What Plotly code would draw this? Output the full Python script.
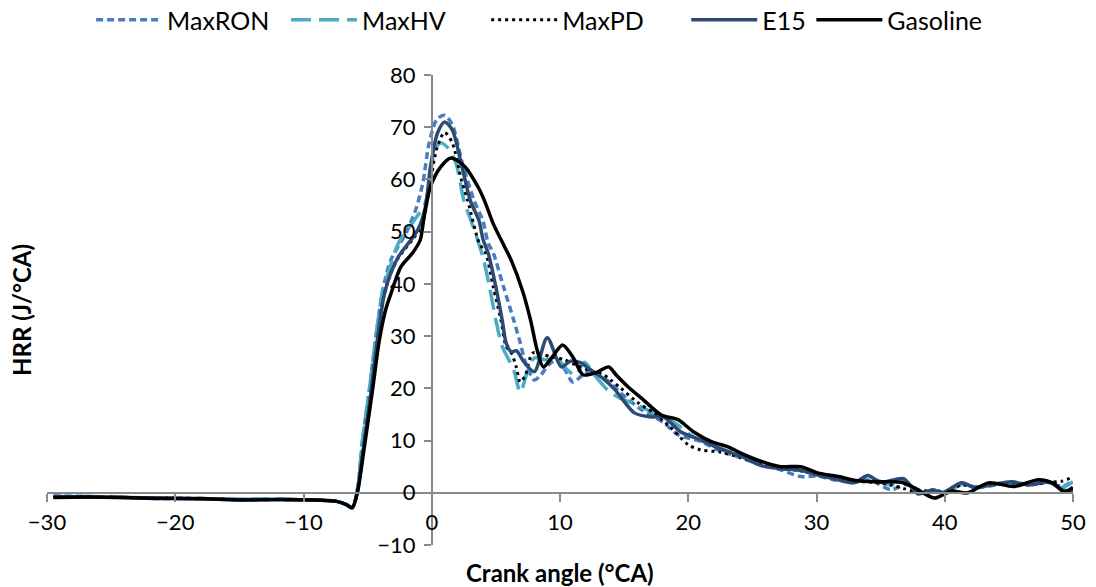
import plotly.graph_objects as go

# ---------------- data ----------------
pre_x = [-29.5, -27, -24, -21, -18, -15, -12, -9, -7.5, -6.7, -6.2]

ron_x = pre_x + [-5.8, -5.4, -4.8, -4.3, -3.8, -3.2, -2.0, -1.25, -0.7, -0.2, 0.4, 1.0, 1.6, 2.4, 3.3, 4.0, 4.4,
                 4.8, 5.6, 6.4, 6.9, 7.3, 8.0, 8.5, 9.1, 9.8, 10.4, 11.0, 11.8, 12.5, 13.2, 13.7, 15.0, 16.3,
                 17.0, 18.1, 19.2, 21.0, 22.3, 24.0, 25.7, 27.2, 28.8, 30.1, 31.3, 33.0, 34.2, 35.8, 37.0,
                 38.0, 39.2, 40.0, 41.3, 42.5, 44.0, 45.3, 46.8, 48.0, 49.2, 50.0]
ron_y = [-0.6, -0.7, -0.9, -1.1, -1.1, -1.3, -1.3, -1.4, -1.6, -2.2, -2.9,
         0.5, 10, 21, 31, 39, 44.5, 49.8, 54.2, 59.3, 67, 71.5, 72.3, 70.5, 63, 56, 52, 47.8,
         45.9, 39.4, 33, 28.7, 25, 21.6, 22.5, 24.5, 25.5, 23.5, 21.2, 22.6, 23.5, 22.2, 21.5, 18.5, 16,
         15, 13.4, 11.1, 9.8, 8.2, 6.8, 5.3, 4.4, 3.1, 3.2, 2.5, 2.0, 2.4, 0.6, 1.6,
         0.5, 0.2, 0.2, 1.6, 1.0, 1.5, 2.0, 1.6, 2.0, 1.2, 2.5]

hv_x = pre_x + [-5.8, -5.4, -4.8, -4.3, -3.8, -3.4, -2.6, -1.5, -0.5, -0.1, 0.3, 0.7, 1.2, 1.9, 2.5, 3.3, 4.0,
                4.5, 5.0, 5.5, 6.0, 6.4, 6.9, 7.5, 8.0, 8.8, 9.8, 10.6, 11.2, 11.9, 12.7, 13.7, 14.6, 15.3,
                16.3, 17.3, 18.4, 19.4, 20.4, 22.0, 24.0, 25.7, 27.2, 28.8, 30.1, 31.7, 33.0, 34.2, 35.8,
                36.8, 37.9, 39.1, 40.3, 41.3, 42.3, 43.6, 45.2, 46.6, 48.1, 49.1, 50.0]
hv_y = [-0.8, -0.7, -0.9, -1.0, -1.2, -1.3, -1.2, -1.4, -1.6, -2.2, -2.9,
        0.5, 10, 21, 31, 39, 42.1, 47.8, 51.7, 55.5, 61.2, 66, 67, 66.2, 63, 56, 50.5, 45,
        39.5, 33, 28, 25.5, 23.5, 19.3, 23.5, 25.8, 25.5, 25.5, 23.5, 22.5, 25, 22.5, 19.7, 18.2, 17.5,
        16.5, 15.3, 14.2, 12.6, 10.7, 9, 7.2, 5.7, 4.8, 4.2, 3.5, 2.7, 2.1, 2.8, 1.5,
        2.4, 0, 0.3, 0, 1.8, 1.1, 1.5, 1.8, 1.6, 2.0, 1.0, 2.1]

pd_x = pre_x + [-5.8, -5.3, -4.7, -4.2, -3.7, -3.2, -2.6, -1.5, -0.8, -0.2, 0.4, 1.0, 1.6, 2.3, 2.8, 3.7, 4.2,
                4.8, 5.4, 5.8, 6.2, 6.6, 6.9, 7.3, 7.9, 9.3, 10.3, 11.2, 12.2, 13.4, 14.0, 14.7, 16.1, 17.3,
                18.6, 20.0, 21.0, 22.5, 24.0, 25.7, 27.2, 28.8, 30.1, 31.7, 33.0, 34.5, 35.8, 36.8, 37.9,
                39.1, 40.3, 41.3, 42.5, 43.6, 45.2, 46.6, 48.1, 49.1, 50.0]
pd_y = [-0.8, -0.8, -0.9, -1.0, -1.1, -1.3, -1.3, -1.4, -1.6, -2.2, -2.8,
        0.3, 9, 20, 30, 38, 42, 45, 48.5, 51, 58, 66, 69, 67, 60, 56, 47.8, 45.9,
        39.4, 33, 28, 26.8, 24, 21.2, 22.5, 26.8, 26, 25.5, 24.5, 23.5, 22.6, 21.5, 20.1, 17.2, 15.3,
        12.6, 9.2, 8.2, 7.8, 6.8, 5.5, 4.7, 4.2, 3.4, 2.6, 2.2, 2.0, 1.5, 0.8, 0.2,
        0.5, 0.1, 1.5, 1.0, 1.6, 1.9, 1.5, 2.0, 2.2, 3.0]

e15_x = pre_x + [-5.8, -5.3, -4.7, -4.2, -3.7, -3.2, -2.6, -1.1, -0.5, -0.1, 0.45, 1.0, 1.6, 2.3, 3.0, 3.7, 4.0,
                 4.4, 5.0, 5.5, 5.8, 6.2, 6.6, 7.2, 8.0, 9.0, 10.1, 10.8, 11.6, 12.4, 13.3, 14.3, 15.8, 17.1,
                 18.1, 19.4, 21.0, 22.3, 24.1, 25.7, 27.2, 28.8, 30.1, 31.7, 32.9, 34.0, 35.0, 36.8, 37.9,
                 39.1, 39.8, 41.3, 42.3, 43.6, 45.2, 46.6, 48.1, 49.1, 50.0]
e15_y = [-0.7, -0.8, -0.9, -1.0, -1.2, -1.3, -1.3, -1.4, -1.6, -2.2, -2.9,
         0.3, 9, 20, 30, 38, 42, 45.2, 50.3, 54.7, 62.4, 68.9, 71, 69.5, 63, 56, 52, 48.5,
         45.9, 39.4, 33, 28.7, 27, 27.2, 25, 23.2, 29.7, 24.1, 25.2, 24.9, 23.5, 22, 19.7, 15.3, 14.5,
         14.5, 11.7, 10.1, 8.6, 7, 5.2, 4.6, 4.3, 3.4, 2.5, 1.9, 3.3, 2.0, 2.7, -0.2,
         0.6, 0.0, 1.9, 1.1, 1.5, 2.1, 1.5, 2.1, 0.6, 0.3]

gas_x = pre_x + [-5.8, -5.3, -4.6, -4.1, -3.6, -3.2, -2.4, -1.5, -0.9, -0.6, -0.1, 0.7, 1.5, 2.6, 3.6, 4.1, 4.8,
                 5.6, 6.2, 7.1, 7.7, 8.2, 8.7, 9.4, 10.2, 11.0, 11.8, 12.8, 13.8, 14.4, 15.3, 16.5, 17.9, 19.2,
                 20.4, 21.8, 23.1, 24.1, 25.7, 27.2, 28.8, 30.1, 31.7, 33.2, 35.0, 36.6, 37.6, 38.3, 39.2,
                 40.5, 41.8, 43.4, 45.4, 47.3, 48.5, 49.3, 50.0]
gas_y = [-0.9, -0.8, -0.9, -1.1, -1.1, -1.4, -1.3, -1.4, -1.6, -2.2, -2.8,
         0.0, 8, 20, 29, 35, 38, 43.3, 45.9, 48.4, 52.8, 58.6, 62.4, 64.1, 62.4, 58.6, 56, 51.5,
         47.5, 44.5, 38.5, 33.1, 27.5, 24.1, 26, 28.3, 26, 22.6, 23, 24.1, 22.5, 20.3, 17.8, 14.9, 14,
         11.7, 9.8, 8.8, 7.6, 6, 5, 5, 3.8, 3.1, 2.3, 2.1, 2.0, 1.0, 0.0, -1.0,
         0.3, 0.0, 1.9, 1.2, 2.5, 1.8, 0.2, 1.0]

x_ticks = [-30, -20, -10, 0, 10, 20, 30, 40, 50]
y_ticks = [-10, 0, 10, 20, 30, 40, 50, 60, 70, 80]

series = [
    ("MaxRON", ron_x, ron_y, "#4A7DBF", "7px,4px", 3.5),
    ("MaxHV", hv_x, hv_y, "#4BACC6", "20px,8px", 3.5),
    ("MaxPD", pd_x, pd_y, "#000000", "3px,4px", 3),
    ("E15", e15_x, e15_y, "#2C4A74", "solid", 3.5),
    ("Gasoline", gas_x, gas_y, "#000000", "solid", 3.5),
]
# left edge (paper fraction) of each legend entry
legend_pos = [0.043, 0.233, 0.428, 0.623, 0.745]

FONT = "Lato, sans-serif"
AX = "#898989"

fig = go.Figure()
layout_legends = {}
for i, ((name, xs, ys, col, dash, w), lx) in enumerate(zip(series, legend_pos)):
    key = "legend" if i == 0 else f"legend{i + 1}"
    fig.add_trace(go.Scatter(x=xs, y=ys, mode="lines", name=name, legend=key,
                             line=dict(color=col, width=w, dash=dash, shape="spline", smoothing=0.8)))
    layout_legends[key] = dict(orientation="h", x=lx, xanchor="left", y=1.117, yanchor="middle",
                               font=dict(size=25, family=FONT), bgcolor="rgba(0,0,0,0)",
                               itemwidth=66)

xr = [x_ticks[0], x_ticks[-1]]
yr = [y_ticks[0], y_ticks[-1]]

fig.update_layout(
    width=1096, height=587,
    margin=dict(l=47, r=23, t=75, b=42, autoexpand=False),
    paper_bgcolor="white", plot_bgcolor="white",
    font=dict(family=FONT, size=22, color="#000000"),
    showlegend=True,
    xaxis=dict(range=xr, tickvals=x_ticks, showgrid=False, zeroline=False,
               showline=True, linecolor=AX, linewidth=1.5,
               ticks="outside", ticklen=8, tickwidth=1.5, tickcolor=AX,
               anchor="free", position=(0 - yr[0]) / (yr[1] - yr[0]),
               ticklabelstandoff=2, tickfont=dict(size=22)),
    yaxis=dict(range=yr, tickvals=y_ticks, showgrid=False, zeroline=False,
               showline=True, linecolor=AX, linewidth=1.5,
               ticks="outside", ticklen=7, tickwidth=1.5, tickcolor=AX,
               anchor="free", position=(0 - xr[0]) / (xr[1] - xr[0]),
               ticklabelstandoff=4, tickfont=dict(size=22)),
    annotations=[
        dict(text="<b>Crank angle (°CA)</b>", xref="x", yref="paper", x=10, y=0,
             yshift=-27, yanchor="middle", xanchor="center", showarrow=False, font=dict(size=24)),
        dict(text="<b>HRR (J/°CA)</b>", xref="paper", yref="paper", x=0, xshift=-26,
             xanchor="center", yanchor="middle",
             y=0.5, textangle=-90, showarrow=False, font=dict(size=24)),
    ],
    **layout_legends,
)

fig.write_html("out.html")
